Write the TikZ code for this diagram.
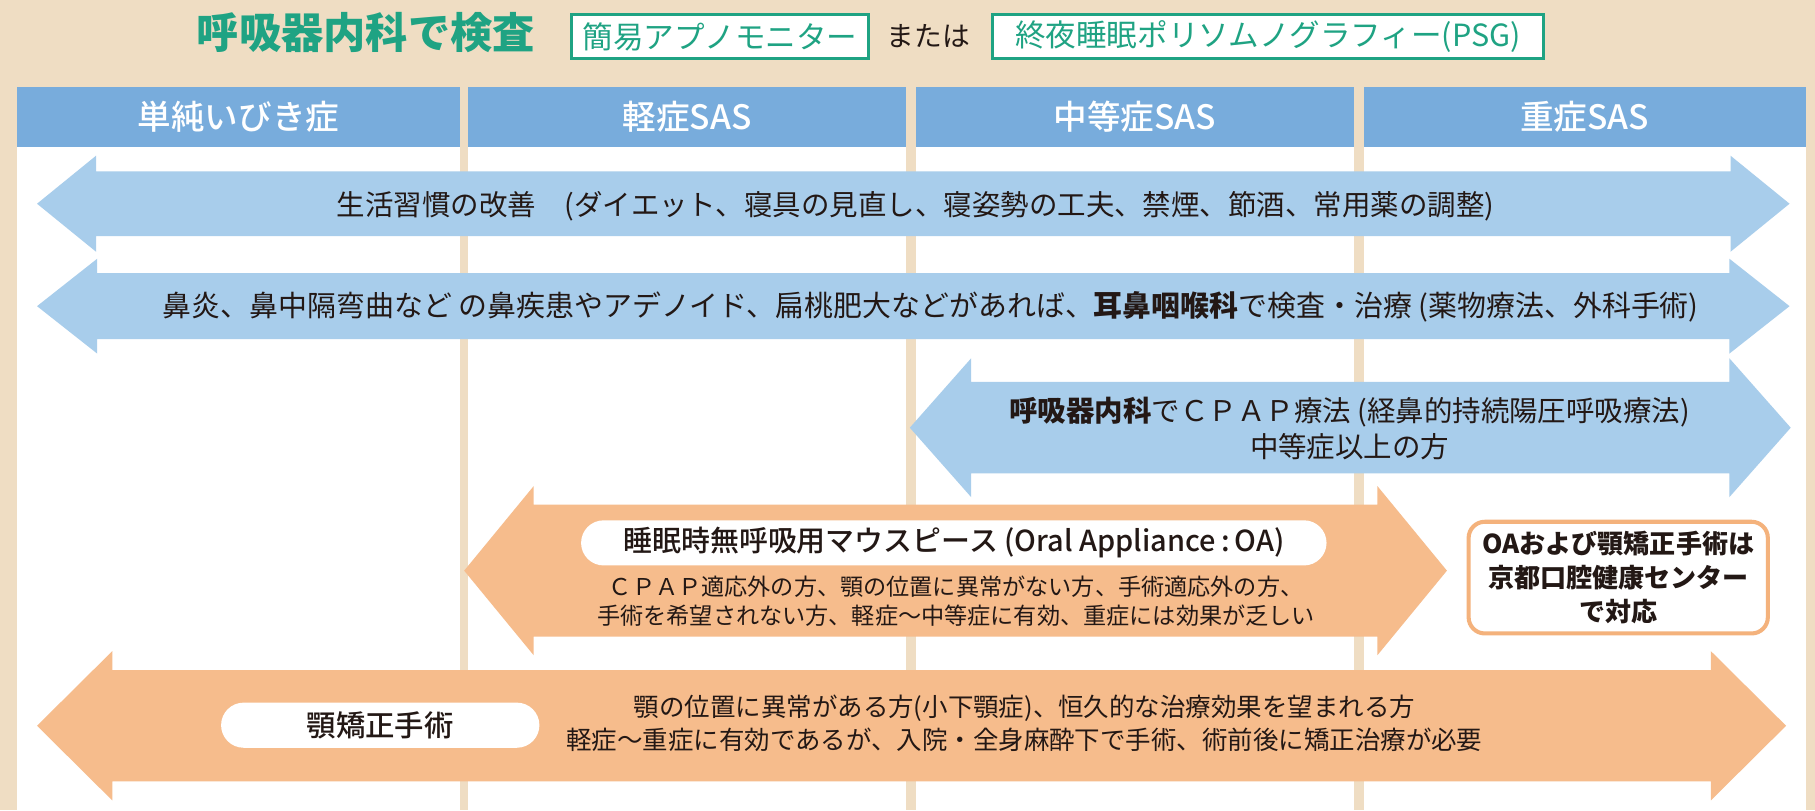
\documentclass[tikz,border=0pt]{standalone}
\usepackage{fontspec}
\setmainfont{Noto Sans CJK JP}
\newfontfamily\medfont{Noto Sans CJK JP Medium}
\definecolor{bgbeige}{HTML}{EFDDC3}
\definecolor{hdrblue}{HTML}{78ACDC}
\definecolor{arrblue}{HTML}{A8CDEB}
\definecolor{arrorange}{HTML}{F6BC8C}
\definecolor{mygreen}{HTML}{1FA383}
\definecolor{ink}{HTML}{231815}
\definecolor{boxorange}{HTML}{F4B27C}
% #1 style, #2 left tip x, #3 right tip x, #4 centre y, #5 shaft half, #6 head half, #7 head length
\newcommand\DArrowShape[7]{%
  \fill[#1] (#2,#4) -- ({#2+#7},{#4-#6}) -- ({#2+#7},{#4-#5}) -- ({#3-#7},{#4-#5})
    -- ({#3-#7},{#4-#6}) -- (#3,#4) -- ({#3-#7},{#4+#6}) -- ({#3-#7},{#4+#5})
    -- ({#2+#7},{#4+#5}) -- ({#2+#7},{#4+#6}) -- cycle;}
\tikzset{
  txt/.style={text=ink, inner sep=0pt, align=center, font=\fontsize{12.3}{15.5}\selectfont},
  hdr/.style={text=white, inner sep=0pt, font=\medfont\fontsize{14.5}{16}\selectfont},
  greenbox/.style={draw=mygreen, line width=1.45pt, fill=white, inner sep=0pt,
    minimum height=19pt, text=mygreen, font=\fontsize{13.2}{15}\selectfont},
  pill/.style={fill=white, rounded corners=9.75pt, inner sep=0pt, minimum height=19.5pt, text=ink},
  oabox/.style={draw=boxorange, fill=white, line width=1.75pt, rounded corners=7pt, inner sep=0pt,
    align=center, text=ink, font=\bfseries\fontsize{11.25}{14.75}\selectfont}
}
\begin{document}
\begin{tikzpicture}[x=0.5pt,y=-0.5pt]
\useasboundingbox (0,0) rectangle (1568,700);
\fill[bgbeige] (0,0) rectangle (1568,700);
% title row
\node[text=mygreen, inner sep=0pt, font=\bfseries\fontsize{18.25}{20}\selectfont] (title) at (316,28) {呼吸器内科で検査};
\node[greenbox, minimum width=128.5pt] (mon) at (622,31.5) {簡易アプノモニター};
\node[text=ink, inner sep=0pt, font=\fontsize{12}{14}\selectfont] (or) at (802,31) {または};
\node[greenbox, minimum width=238pt] (psg) at (1095.5,31.5) {終夜睡眠ポリソムノグラフィー(PSG)};
% columns
\foreach \a/\b in {15/397,404/783,791/1170,1178/1560} {
  \fill[hdrblue] (\a,75) rectangle (\b,127);
  \fill[white] (\a,127) rectangle (\b,700);
}
\node[hdr] (h1) at (206,101) {単純いびき症};
\node[hdr] (h2) at (593.5,101) {軽症SAS};
\node[hdr] (h3) at (980.5,101) {中等症SAS};
\node[hdr] (h4) at (1369,101) {重症SAS};
% arrows
\DArrowShape{arrblue}{32}{1546}{176}{28}{41.5}{51}
\DArrowShape{arrblue}{32}{1546}{264.5}{28.5}{41}{52}
\DArrowShape{arrblue}{786}{1547}{369.5}{39.5}{60}{53}
\DArrowShape{arrorange}{401}{1250}{493}{57}{73}{60}
\DArrowShape{arrorange}{32}{1543}{627}{48}{64.5}{65}
% arrow texts
\node[txt] (life) at (791,178) {生活習慣の改善\quad(ダイエット、寝具の見直し、寝姿勢の工夫、禁煙、節酒、常用薬の調整)};
\node[txt, font=\fontsize{12.5}{15.5}\selectfont] (ent) at (804,265) {鼻炎、鼻中隔弯曲など の鼻疾患やアデノイド、扁桃肥大などがあれば、{\bfseries 耳鼻咽喉科}で検査・治療 (薬物療法、外科手術)};
\node[txt] (cpap) at (1166,370) {{\bfseries 呼吸器内科}でＣＰＡＰ療法 (経鼻的持続陽圧呼吸療法)\\中等症以上の方};
\node[pill, minimum width=322pt, font=\medfont\fontsize{12.5}{14}\selectfont] (oapill) at (824,469) {睡眠時無呼吸用マウスピース (Oral Appliance\,:\,OA)};
\node[txt, font=\fontsize{10}{12.5}\selectfont] (oatext) at (826,519) {ＣＰＡＰ適応外の方、顎の位置に異常がない方、手術適応外の方、\\手術を希望されない方、軽症〜中等症に有効、重症には効果が乏しい};
\node[oabox, minimum width=129.25pt, minimum height=48.25pt] (center) at (1398,499) {OAおよび顎矯正手術は\\京都口腔健康センター\\で対応};
\node[pill, minimum width=137.5pt, font=\medfont\fontsize{12.7}{14}\selectfont] (jawpill) at (328.5,626.5) {顎矯正手術};
\node[txt, font=\fontsize{11}{14}\selectfont] (jawtext) at (885,625) {顎の位置に異常がある方(小下顎症)、恒久的な治療効果を望まれる方\\軽症〜重症に有効であるが、入院・全身麻酔下で手術、術前後に矯正治療が必要};
\end{tikzpicture}
\end{document}
